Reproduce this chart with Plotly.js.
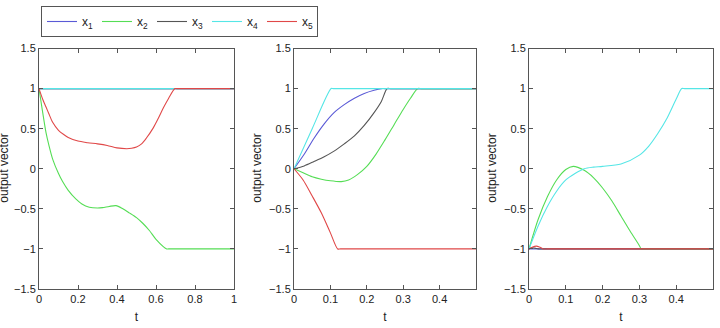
<!DOCTYPE html>
<html>
<head>
<meta charset="utf-8">
<script src="https://cdn.plot.ly/plotly-3.0.1.min.js"></script>
<style>
  html, body { margin: 0; padding: 0; background: #fff; }
  #chart { width: 720px; height: 328px; }
</style>
</head>
<body>
<div id="chart"></div>
<script>
// Series labels and colours (x1..x5)
const seriesNames = ['x<sub>1</sub>', 'x<sub>2</sub>', 'x<sub>3</sub>', 'x<sub>4</sub>', 'x<sub>5</sub>'];
const seriesColors = ['#5a5ad6', '#55dd55', '#555555', '#55e6e6', '#e04848'];

// ---- Panel 1: t in [0, 1] ----
const p1_x1_t = [0, 1];
const p1_x1_v = [1, 1];
const p1_x2_t = [0, 0.019, 0.036, 0.05, 0.07, 0.1, 0.121, 0.15, 0.19, 0.22, 0.258, 0.3, 0.326, 0.36, 0.395, 0.43, 0.463, 0.5, 0.532, 0.566, 0.6, 0.655, 0.665, 1];
const p1_x2_v = [1, 0.7, 0.45, 0.3, 0.12, -0.06, -0.16, -0.27, -0.38, -0.44, -0.48, -0.49, -0.485, -0.47, -0.46, -0.5, -0.55, -0.61, -0.68, -0.77, -0.88, -1, -1, -1];
const p1_x3_t = [0, 1];
const p1_x3_v = [1, 1];
const p1_x4_t = [0, 1];
const p1_x4_v = [1, 1];
const p1_x5_t = [0, 0.02, 0.036, 0.05, 0.07, 0.1, 0.125, 0.15, 0.2, 0.25, 0.3, 0.35, 0.4, 0.45, 0.475, 0.5, 0.526, 0.55, 0.586, 0.612, 0.638, 0.665, 0.697, 0.707, 1];
const p1_x5_v = [1, 0.86, 0.77, 0.69, 0.58, 0.48, 0.43, 0.39, 0.345, 0.325, 0.31, 0.29, 0.26, 0.25, 0.255, 0.27, 0.31, 0.38, 0.51, 0.63, 0.76, 0.88, 1, 1, 1];

// ---- Panel 2: t in [0, 0.5] ----
const p2_x1_t = [0, 0.028, 0.055, 0.083, 0.11, 0.138, 0.166, 0.193, 0.22, 0.24, 0.25, 0.5];
const p2_x1_v = [0, 0.18, 0.38, 0.56, 0.7, 0.8, 0.88, 0.94, 0.98, 1, 1, 1];
const p2_x2_t = [0, 0.025, 0.05, 0.075, 0.1, 0.13, 0.15, 0.175, 0.2, 0.225, 0.25, 0.275, 0.3, 0.32, 0.34, 0.35, 0.5];
const p2_x2_v = [0, -0.05, -0.1, -0.13, -0.15, -0.16, -0.14, -0.07, 0.03, 0.18, 0.36, 0.55, 0.74, 0.88, 1, 1, 1];
const p2_x3_t = [0, 0.028, 0.055, 0.083, 0.11, 0.138, 0.166, 0.193, 0.22, 0.24, 0.256, 0.266, 0.5];
const p2_x3_v = [0, 0.035, 0.09, 0.15, 0.22, 0.31, 0.41, 0.54, 0.7, 0.84, 1, 1, 1];
const p2_x4_t = [0, 0.05, 0.102, 0.108, 0.5];
const p2_x4_v = [0, 0.5, 1, 1, 1];
const p2_x5_t = [0, 0.025, 0.05, 0.075, 0.1, 0.12, 0.128, 0.5];
const p2_x5_v = [0, -0.14, -0.34, -0.55, -0.8, -1, -1, -1];

// ---- Panel 3: t in [0, 0.5] ----
const p3_x1_t = [0, 0.5];
const p3_x1_v = [-1, -1];
const p3_x2_t = [0, 0.025, 0.05, 0.075, 0.1, 0.12, 0.15, 0.175, 0.2, 0.225, 0.25, 0.275, 0.3, 0.305, 0.313, 0.5];
const p3_x2_v = [-1, -0.63, -0.35, -0.14, -0.01, 0.03, -0.02, -0.11, -0.24, -0.4, -0.59, -0.78, -0.96, -1, -1, -1];
const p3_x3_t = [0, 0.008, 0.016, 0.025, 0.035, 0.5];
const p3_x3_v = [-1, -0.985, -0.99, -1, -1, -1];
const p3_x4_t = [0, 0.025, 0.05, 0.075, 0.1, 0.125, 0.15, 0.175, 0.2, 0.25, 0.3, 0.325, 0.35, 0.375, 0.4, 0.415, 0.423, 0.5];
const p3_x4_v = [-1, -0.71, -0.47, -0.28, -0.14, -0.06, 0.0, 0.02, 0.03, 0.06, 0.17, 0.28, 0.44, 0.63, 0.87, 1, 1, 1];
const p3_x5_t = [0, 0.01, 0.02, 0.03, 0.04, 0.05, 0.5];
const p3_x5_v = [-1, -0.975, -0.965, -0.98, -1, -1, -1];

const panels = [
  { xa: 'x', ya: 'y', series: [[p1_x1_t, p1_x1_v], [p1_x2_t, p1_x2_v], [p1_x3_t, p1_x3_v], [p1_x4_t, p1_x4_v], [p1_x5_t, p1_x5_v]] },
  { xa: 'x2', ya: 'y2', series: [[p2_x1_t, p2_x1_v], [p2_x2_t, p2_x2_v], [p2_x3_t, p2_x3_v], [p2_x4_t, p2_x4_v], [p2_x5_t, p2_x5_v]] },
  { xa: 'x3', ya: 'y3', series: [[p3_x1_t, p3_x1_v], [p3_x2_t, p3_x2_v], [p3_x3_t, p3_x3_v], [p3_x4_t, p3_x4_v], [p3_x5_t, p3_x5_v]] }
];

const traces = [];
panels.forEach((p, pi) => {
  p.series.forEach((s, si) => {
    traces.push({
      type: 'scatter', mode: 'lines',
      x: s[0], y: s[1],
      xaxis: p.xa, yaxis: p.ya,
      name: seriesNames[si],
      legendgroup: 'g' + si,
      showlegend: pi === 0,
      line: { color: seriesColors[si], width: 1.1, shape: 'spline', smoothing: 0.8 },
      hoverinfo: 'skip'
    });
  });
});

const W = 720, H = 328;
const yDom = [(H - 289) / H, (H - 48.5) / H];
const fontFam = 'Liberation Sans, Arial, sans-serif';
const tickFont = { family: fontFam, size: 11, color: '#222' };

function xAxis(dom, range, tickvals, ticktext) {
  return {
    domain: dom, range: range, tickvals: tickvals, ticktext: ticktext,
    ticks: 'inside', ticklen: 4, tickcolor: '#555', mirror: 'ticks',
    showline: true, linecolor: '#555', linewidth: 1,
    showgrid: false, zeroline: false, tickfont: tickFont,
    title: { text: 't', font: { family: fontFam, size: 12, color: '#222' }, standoff: 8 },
    fixedrange: true
  };
}
function yAxis(anchor) {
  return {
    domain: yDom, range: [-1.5, 1.5], anchor: anchor,
    tickvals: [-1.5, -1, -0.5, 0, 0.5, 1, 1.5],
    ticktext: ['\u22121.5', '\u22121', '\u22120.5', '0', '0.5', '1', '1.5'],
    ticks: 'inside', ticklen: 4, tickcolor: '#555', mirror: 'ticks',
    showline: true, linecolor: '#555', linewidth: 1,
    showgrid: false, zeroline: false, tickfont: tickFont,
    fixedrange: true
  };
}

const layout = {
  width: W, height: H,
  margin: { l: 0, r: 0, t: 0, b: 0 },
  paper_bgcolor: '#fff', plot_bgcolor: '#fff',
  showlegend: true,
  legend: {
    orientation: 'h', x: 41 / W, y: 1 - 6 / H, xanchor: 'left', yanchor: 'top',
    bordercolor: '#555', borderwidth: 1, bgcolor: '#fff',
    font: { family: fontFam, size: 12, color: '#222' },
    entrywidth: 10, entrywidthmode: 'pixels',
    tracegroupgap: 0, traceorder: 'normal'
  },
  xaxis: xAxis([39 / W, 234 / W], [0, 1], [0, 0.2, 0.4, 0.6, 0.8, 1], ['0', '0.2', '0.4', '0.6', '0.8', '1']),
  xaxis2: Object.assign(xAxis([294 / W, 476 / W], [0, 0.5], [0, 0.1, 0.2, 0.3, 0.4], ['0', '0.1', '0.2', '0.3', '0.4']), { anchor: 'y2' }),
  xaxis3: Object.assign(xAxis([529 / W, 713 / W], [0, 0.5], [0, 0.1, 0.2, 0.3, 0.4, 0.5], ['0', '0.1', '0.2', '0.3', '0.4', '0.5']), { anchor: 'y3' }),
  yaxis: yAxis('x'),
  yaxis2: yAxis('x2'),
  yaxis3: yAxis('x3'),
  annotations: [4, 257, 492].map(px => ({
    text: 'output vector', textangle: -90, showarrow: false,
    xref: 'paper', yref: 'paper', x: px / W, y: (yDom[0] + yDom[1]) / 2,
    xanchor: 'center', yanchor: 'middle',
    font: { family: fontFam, size: 12, color: '#222' }
  }))
};

Plotly.newPlot('chart', traces, layout, { displayModeBar: false, staticPlot: true });
</script>
</body>
</html>
